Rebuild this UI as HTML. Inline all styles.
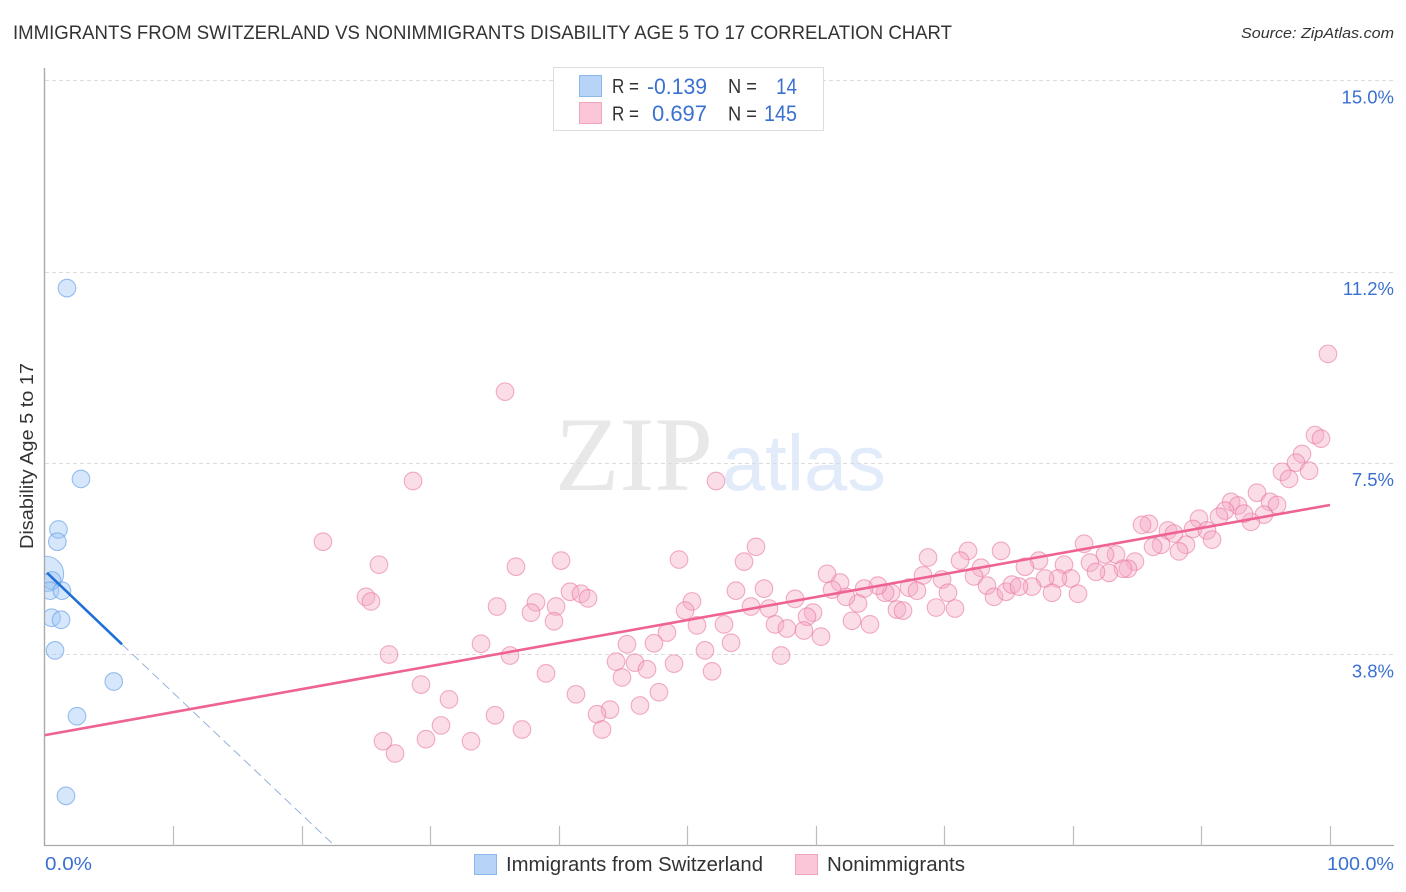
<!DOCTYPE html>
<html lang="en">
<head>
<meta charset="utf-8">
<title>Immigrants from Switzerland vs Nonimmigrants Disability Age 5 to 17 Correlation Chart</title>
<style>
html,body{margin:0;padding:0;background:#fff;width:1406px;height:892px;overflow:hidden}
svg{display:block;font-family:"Liberation Sans",sans-serif}
</style>
</head>
<body>
<svg id="chart" xmlns="http://www.w3.org/2000/svg" width="1406" height="892" viewBox="0 0 1406 892">
  <defs>
    <clipPath id="plot-clip"><rect x="45" y="60" width="1349" height="786"/></clipPath>
  </defs>
  <rect width="1406" height="892" fill="#fff"/>
  <text x="13" y="39" font-size="19" fill="#333" textLength="939" lengthAdjust="spacingAndGlyphs">IMMIGRANTS FROM SWITZERLAND VS NONIMMIGRANTS DISABILITY AGE 5 TO 17 CORRELATION CHART</text>
  <text x="1241" y="38" font-size="15" font-style="italic" fill="#333" textLength="153" lengthAdjust="spacingAndGlyphs">Source: ZipAtlas.com</text>

  <g>
    <text x="555" y="490" font-family="'Liberation Serif',serif" font-size="106" fill="#e8e8e8" textLength="158" lengthAdjust="spacingAndGlyphs">ZIP</text>
    <text x="722" y="490" font-size="79" fill="#e1ebf9" textLength="164" lengthAdjust="spacingAndGlyphs">atlas</text>
  </g>

  <g id="grid"></g>
  <g id="axes"></g>
  <g id="pink-points" clip-path="url(#plot-clip)"></g>
  <g id="blue-points" clip-path="url(#plot-clip)"></g>
  <g id="trends"></g>
  <g id="labels"></g>

  <text transform="translate(33 456) rotate(-90)" text-anchor="middle" font-size="18" fill="#333" textLength="186" lengthAdjust="spacingAndGlyphs">Disability Age 5 to 17</text>

  <g>
    <rect x="553.5" y="67.5" width="270" height="63" fill="#fff" stroke="#ddd"/>
    <rect x="579.5" y="75.5" width="22" height="21" fill="#b7d3f7" stroke="#8db8ec"/>
    <rect x="579.5" y="102.5" width="22" height="21" fill="#fac6d8" stroke="#f0a5be"/>
    <g font-size="20" fill="#333">
      <text x="612" y="93" textLength="27" lengthAdjust="spacingAndGlyphs">R =</text>
      <text x="728" y="93" textLength="29" lengthAdjust="spacingAndGlyphs">N =</text>
      <text x="612" y="120.500" textLength="27" lengthAdjust="spacingAndGlyphs">R =</text>
      <text x="728" y="120.500" textLength="29" lengthAdjust="spacingAndGlyphs">N =</text>
    </g>
    <g font-size="22" fill="#3a70d2">
      <text x="647" y="94" textLength="60" lengthAdjust="spacingAndGlyphs">-0.139</text>
      <text x="776" y="94" textLength="21" lengthAdjust="spacingAndGlyphs">14</text>
      <text x="652" y="121" textLength="55" lengthAdjust="spacingAndGlyphs">0.697</text>
      <text x="764" y="121" textLength="33" lengthAdjust="spacingAndGlyphs">145</text>
    </g>
  </g>

  <g>
    <rect x="474.500" y="854.500" width="22" height="20" fill="#b7d3f7" stroke="#8db8ec"/>
    <text x="506" y="871" font-size="20" fill="#333" textLength="257" lengthAdjust="spacingAndGlyphs">Immigrants from Switzerland</text>
    <rect x="795.500" y="854.500" width="22" height="20" fill="#fac6d8" stroke="#f0a5be"/>
    <text x="827" y="871" font-size="20" fill="#333" textLength="138" lengthAdjust="spacingAndGlyphs">Nonimmigrants</text>
  </g>
</svg>

<script>
const xTickValues = [0, 10, 20, 30, 40, 50, 60, 70, 80, 90, 100];
const yTickValues = [15, 11.25, 7.5, 3.75];
const yTickLabels = ['15.0%', '11.2%', '7.5%', '3.8%'];
const xEndLabels = ['0.0%', '100.0%'];

const blueX = [1.71, 2.80, 1.05, 0.96, 0.08, 0.54, 0.39, 1.32, 0.51, 1.25, 0.78, 5.35, 2.49, 1.63];
const blueY = [10.93, 7.19, 6.20, 5.96, 5.33, 5.20, 5.00, 5.00, 4.47, 4.43, 3.83, 3.22, 2.54, 0.98];
const blueWeight = [1, 1, 1, 1, 2, 1, 1, 1, 1, 1, 1, 1, 1, 1];

const pinkX = [99.84, 98.83, 99.30, 97.82, 97.35, 98.37, 96.26, 96.81, 94.32, 95.33, 95.88, 94.86, 93.85, 92.30, 92.84, 91.83, 93.31, 91.36, 89.81, 89.34, 90.43, 90.82, 88.79, 88.25, 87.39, 87.86, 86.85, 86.23, 85.91, 85.37, 84.82, 84.28, 83.89, 83.35, 82.49, 82.80, 80.86, 81.32, 81.79, 79.30, 79.84, 78.83, 77.82, 76.81, 78.37, 80.39, 77.35, 76.26, 74.40, 71.83, 71.21, 72.84, 72.30, 73.31, 73.85, 74.79, 75.25, 75.80, 68.72, 68.33, 69.81, 70.27, 69.34, 70.82, 67.24, 67.86, 65.84, 65.37, 64.82, 63.74, 63.27, 62.33, 61.87, 61.25, 60.86, 66.30, 66.77, 62.80, 64.20, 59.77, 59.30, 59.06, 60.39, 36.65, 40.16, 49.34, 54.40, 55.33, 53.77, 55.95, 58.37, 54.94, 56.34, 50.35, 49.81, 52.84, 50.74, 56.81, 57.74, 53.39, 48.40, 47.39, 45.29, 51.36, 57.28, 44.44, 45.91, 46.85, 48.95, 44.90, 51.91, 47.78, 41.32, 46.30, 43.97, 42.96, 43.35, 37.12, 38.99, 36.19, 40.86, 41.71, 42.26, 39.77, 38.21, 37.82, 39.61, 35.18, 35.02, 35.80, 28.64, 52.22, 21.63, 25.99, 24.98, 25.37, 26.77, 29.26, 31.44, 30.82, 29.65, 26.30, 27.24, 33.15, 33.93];
const pinkY = [9.64, 8.05, 7.98, 7.68, 7.51, 7.35, 7.33, 7.19, 6.92, 6.74, 6.68, 6.49, 6.35, 6.74, 6.67, 6.57, 6.51, 6.45, 6.41, 6.21, 6.18, 6.00, 5.90, 5.77, 6.18, 6.12, 5.90, 5.86, 6.31, 6.29, 5.57, 5.43, 5.43, 5.71, 5.71, 5.35, 5.92, 5.55, 5.37, 5.51, 5.24, 5.24, 5.24, 5.08, 4.96, 4.94, 5.59, 5.47, 5.78, 5.78, 5.59, 5.45, 5.28, 5.10, 4.88, 4.98, 5.12, 5.08, 5.65, 5.30, 5.22, 4.96, 4.67, 4.65, 5.06, 5.00, 4.96, 4.96, 5.10, 5.04, 4.75, 4.88, 5.16, 5.02, 5.33, 4.63, 4.61, 4.41, 4.34, 4.57, 4.49, 4.22, 4.10, 5.47, 5.59, 5.61, 5.57, 5.86, 5.00, 5.04, 4.84, 4.69, 4.65, 4.79, 4.61, 4.34, 4.32, 4.34, 4.26, 3.98, 4.18, 3.97, 3.95, 3.83, 3.73, 3.61, 3.59, 3.46, 3.57, 3.30, 3.42, 3.01, 2.97, 2.75, 2.67, 2.58, 2.28, 2.28, 3.38, 3.73, 4.98, 4.94, 4.85, 4.69, 4.77, 4.57, 4.40, 4.69, 2.56, 8.90, 7.15, 7.15, 5.96, 5.51, 4.88, 4.79, 3.75, 3.16, 2.87, 2.36, 2.09, 2.05, 1.81, 2.05, 3.96];

const pinkTrendX = [0, 100];
const pinkTrendY = [2.17, 6.68];
const blueTrendSolidX = [0.16, 5.99];
const blueTrendSolidY = [5.35, 3.95];
const blueTrendDashX = [5.99, 22.55];
const blueTrendDashY = [3.95, 0];

const SVGNS = 'http://www.w3.org/2000/svg';
function xScale(v) { return 45 + v * 12.85; }
function yScale(v) { return 80.4 + (15 - v) * 51.03; }
function crisp(p) { return Math.round(p) - 0.5; }
function make(tag, parent, attrs) {
  const el = document.createElementNS(SVGNS, tag);
  for (const k in attrs) el.setAttribute(k, attrs[k]);
  parent.appendChild(el);
  return el;
}

const gridG = document.getElementById('grid');
const axesG = document.getElementById('axes');
const labelsG = document.getElementById('labels');
const pinkG = document.getElementById('pink-points');
const blueG = document.getElementById('blue-points');
const trendG = document.getElementById('trends');

yTickValues.forEach(function (v, i) {
  const y = Math.round(yScale(v)) + 0.5;
  const line = make('line', gridG, { x1: 45, x2: 1394, y1: y, y2: y, stroke: '#dcdcdc', 'stroke-width': 1, 'stroke-dasharray': '4 3' });
  
  
  const t = make('text', labelsG, { x: 1394, y: yScale(v) + 23, 'text-anchor': 'end', 'font-size': 18.500, fill: '#3a70d2' });
  t.textContent = yTickLabels[i];
  
  
});

const baseY = crisp(yScale(0));
const leftAxis = make('line', axesG, { x1: 44.5, x2: 44.5, y1: 68, y2: baseY + 0.5, stroke: '#aaa', 'stroke-width': 1.4 });


const bottomAxis = make('line', axesG, { x1: 44, x2: 1394, y1: baseY, y2: baseY, stroke: '#aaa', 'stroke-width': 1.2 });



xTickValues.slice(1).forEach(function (v) {
  const x = Math.floor(xScale(v)) + 0.5;
  const tick = make('line', axesG, { x1: x, x2: x, y1: 826, y2: baseY, stroke: '#bdbdbd', 'stroke-width': 1.2 });
  
  
});

const xLabelStart = make('text', labelsG, { x: 45, y: 870, 'font-size': 18.500, fill: '#3a70d2', textLength: 47, lengthAdjust: 'spacingAndGlyphs' });
xLabelStart.textContent = xEndLabels[0];


const xLabelEnd = make('text', labelsG, { x: 1327, y: 870, 'font-size': 18.500, fill: '#3a70d2', textLength: 67, lengthAdjust: 'spacingAndGlyphs' });
xLabelEnd.textContent = xEndLabels[1];



pinkX.forEach(function (v, i) {
  const c = make('circle', pinkG, { cx: xScale(v), cy: yScale(pinkY[i]), r: 8.800, fill: 'rgba(246,170,198,0.4)', stroke: 'rgba(234,120,160,0.6)', 'stroke-width': 1.1 });
  
  
});

blueX.forEach(function (v, i) {
  const c = make('circle', blueG, { cx: xScale(v), cy: yScale(blueY[i]), r: 8.800 * blueWeight[i], fill: 'rgba(160,198,245,0.42)', stroke: 'rgba(100,160,230,0.65)', 'stroke-width': 1.1 });
  
  
});

const blueDash = make('line', trendG, { x1: xScale(blueTrendDashX[0]), y1: yScale(blueTrendDashY[0]), x2: xScale(blueTrendDashX[1]), y2: yScale(blueTrendDashY[1]), stroke: '#8aa9d8', 'stroke-width': 0.9, 'stroke-dasharray': '9 5' });


const blueSolid = make('line', trendG, { x1: xScale(blueTrendSolidX[0]), y1: yScale(blueTrendSolidY[0]), x2: xScale(blueTrendSolidX[1]), y2: yScale(blueTrendSolidY[1]), stroke: '#1f6fd8', 'stroke-width': 2.6 });


const pinkLine = make('line', trendG, { x1: xScale(pinkTrendX[0]), y1: yScale(pinkTrendY[0]), x2: xScale(pinkTrendX[1]), y2: yScale(pinkTrendY[1]), stroke: '#ee6294', 'stroke-width': 2.6 });


</script>
</body>
</html>
